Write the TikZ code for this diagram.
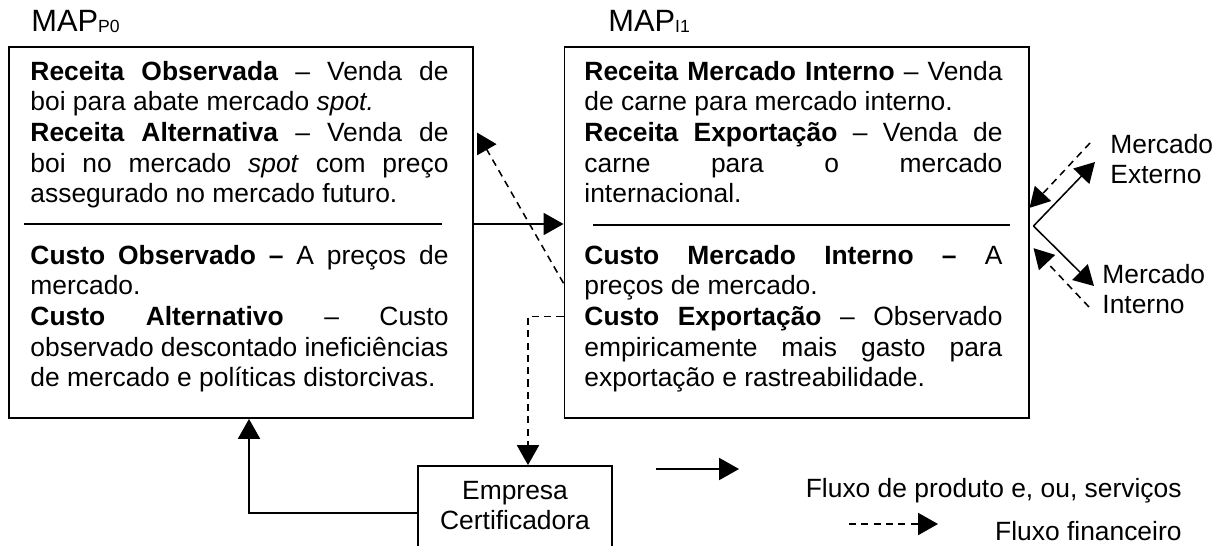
\documentclass[tikz,border=0pt]{standalone}
\usepackage{fontspec}
\setmainfont{Liberation Sans}
\usetikzlibrary{arrows.meta,calc}
\tolerance=10000
\hbadness=10000
\hyphenpenalty=10000

\tikzset{
    mapbox/.style={draw, line width=0.9pt, minimum width=210.9pt, minimum height=168.6pt, inner sep=0pt},
    boxtext/.style={text width=190pt, align=justify, inner sep=0pt, anchor=base west,
        font=\fontsize{12}{13.95}\selectfont},
    plain/.style={inner sep=0pt, font=\fontsize{12}{13.7}\selectfont},
    flow/.style={line width=0.7pt, -{Triangle[length=9pt,width=10pt]}},
    money/.style={flow, dash pattern=on 3.2pt off 2.4pt}
}

\begin{document}
\begin{tikzpicture}[x=0.4545pt, y=-0.4545pt]
    \useasboundingbox (0,0) rectangle (1224,546);

    \node[plain, anchor=base west, font=\fontsize{14}{16}\selectfont] (hP0) at (31,31)
        {MAP\raisebox{-0.6pt}{\fontsize{8}{9}\selectfont P0}};
    \node[plain, anchor=base west, font=\fontsize{14}{16}\selectfont] (hI1) at (608,31)
        {MAP\raisebox{-0.6pt}{\fontsize{8}{9}\selectfont I1}};

    \node[mapbox] (mapP0) at (241,232.5) {};
    \node[mapbox] (mapI1) at (796.5,232.5) {};

    \node[boxtext] (p0rec) at (30,80) {\textbf{Receita Observada} – Venda de\linebreak
        boi para abate mercado \textit{spot.}\par
        \textbf{Receita Alternativa} – Venda de\linebreak
        boi no mercado \textit{spot} com preço\linebreak
        assegurado no mercado futuro.};
    \node[boxtext] (p0cus) at (30,264) {\textbf{Custo Observado –} A preços de\linebreak
        mercado.\par
        \textbf{Custo Alternativo} – Custo\linebreak
        observado descontado ineficiências\linebreak
        de mercado e políticas distorcivas.};

    \node[boxtext] (i1rec) at (584,80) {\textbf{Receita Mercado Interno} – Venda\linebreak
        de carne para mercado interno.\par
        \textbf{Receita Exportação} – Venda de\linebreak
        carne para o mercado\linebreak
        internacional.};
    \node[boxtext] (i1cus) at (584,264) {\textbf{Custo Mercado Interno –} A\linebreak
        preços de mercado.\par
        \textbf{Custo Exportação} – Observado\linebreak
        empiricamente mais gasto para\linebreak
        exportação e rastreabilidade.};

    \coordinate (r0a) at (24,224);
    \coordinate (r0b) at (442,224);
    \coordinate (r1a) at (593,225);
    \coordinate (r1b) at (1010,225);
    \draw[line width=0.7pt] (r0a) -- (r0b);
    \draw[line width=0.7pt] (r1a) -- (r1b);

    \node[draw, line width=0.9pt, minimum width=88.2pt, minimum height=42.7pt, align=center,
        font=\fontsize{12}{13.6}\selectfont] (cert) at (515,513)
        {Empresa\\Certificadora\rule[-7pt]{0pt}{7pt}};

    \node[plain, anchor=north west, align=left] (mext) at (1110,134) {Mercado\\Externo};
    \node[plain, anchor=north west, align=left] (mint) at (1102,264) {Mercado\\Interno};

    % fluxos entre os elos
    \draw[flow] (r0b -| mapP0.east) -- (r0b -| mapI1.west);
    \draw[money] ($(mapI1.north west)!0.636!(mapI1.south west)$)
        -- ($(mapP0.north east)!0.232!(mapP0.south east)+(3,0)$);
    \draw[money] ($(mapI1.north west)!0.725!(mapI1.south west)$) -| ($(cert.north)+(13,0)$);
    \draw[flow] (cert.west) -| ($(mapP0.south)+(8,0)$);

    \coordinate (vtx) at ($(r1b -| mapI1.east)+(4,1)$);
    \coordinate (toExt) at (1095,162);
    \coordinate (toInt) at (1094,286);
    \coordinate (fromExt) at (1090,143);
    \coordinate (fromInt) at (1089,307);
    \draw[flow] (vtx) -- (toExt);
    \draw[flow] (vtx) -- (toInt);
    \draw[money] (fromExt) -- ($(mapI1.north east)!0.434!(mapI1.south east)$);
    \draw[money] (fromInt) -- ($(mapI1.north east)!0.542!(mapI1.south east)+(4,0)$);

    % legenda
    \coordinate (lgA) at (656,469);
    \coordinate (lgB) at (739,469);
    \coordinate (lgC) at (849,524);
    \coordinate (lgD) at (938,524);
    \draw[flow] (lgA) -- (lgB);
    \draw[money] (lgC) -- (lgD);
    \node[plain, anchor=base east] (lgprod) at (1182,497) {Fluxo de produto e, ou, serviços};
    \node[plain, anchor=base east] (lgfin) at (1182,540) {Fluxo financeiro};
\end{tikzpicture}
\end{document}
